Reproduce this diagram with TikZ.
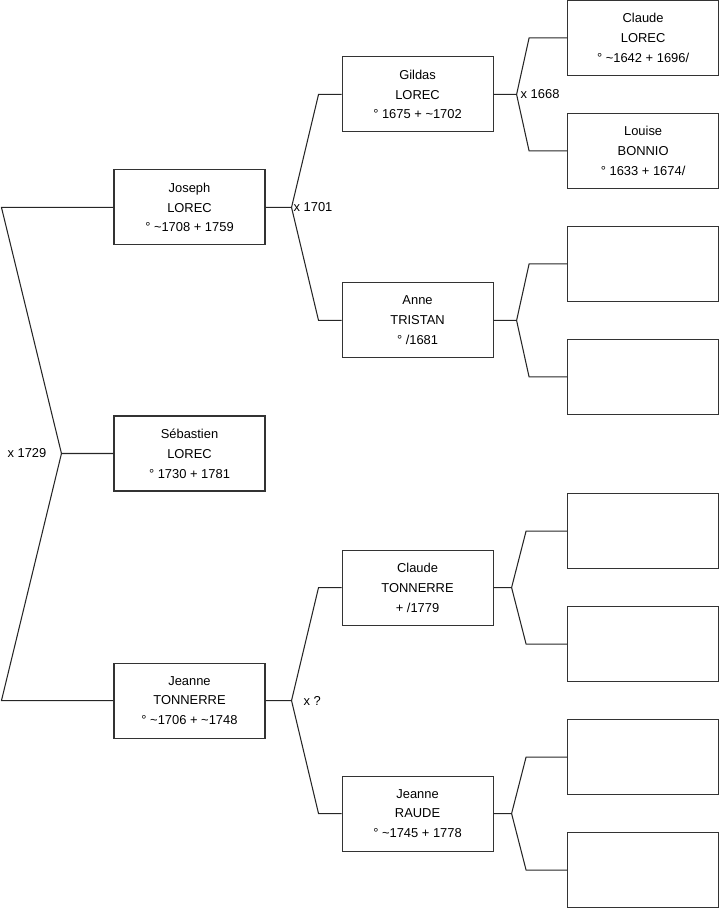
\documentclass[tikz,border=0pt]{standalone}
\usepackage{fontspec}
\setmainfont{Liberation Sans}
\usetikzlibrary{positioning}

\begin{document}
\begin{tikzpicture}[
    node distance=1.47cm,
    box/.style={rectangle, draw=black!80, line width=0.6pt, minimum width=3.02cm, minimum height=1.5cm, align=center, inner sep=0pt, font=\fontsize{7.35}{11.3}\selectfont},
    link/.style={draw=black!85, line width=0.6pt},
    wed/.style={inner sep=1pt, font=\fontsize{7.35}{8.5}\selectfont}
]
\useasboundingbox (0,0) rectangle (14.38,-18.16);

% Generation 1
\node[box] (seb) at (3.79,-9.07) {Sébastien\\LOREC\\° 1730 + 1781};
\node[box, above=3.4cm of seb] (joseph) {Joseph\\LOREC\\° \textasciitilde1708 + 1759};
\node[box, below=3.42cm of seb] (jeanneT) {Jeanne\\TONNERRE\\° \textasciitilde1706 + \textasciitilde1748};

% Generation 2
\node[box, right=1.52cm of joseph, yshift=2.26cm] (gildas) {Gildas\\LOREC\\° 1675 + \textasciitilde1702};
\node[box, right=1.52cm of joseph, yshift=-2.26cm] (anne) {Anne\\TRISTAN\\° /1681};
\node[box, right=1.52cm of jeanneT, yshift=2.26cm] (claudeT) {Claude\\TONNERRE\\+ /1779};
\node[box, right=1.52cm of jeanneT, yshift=-2.26cm] (jeanneR) {Jeanne\\RAUDE\\° \textasciitilde1745 + 1778};

% Generation 3
\node[box, right=of gildas, yshift=1.13cm] (claudeL) {Claude\\LOREC\\° \textasciitilde1642 + 1696/};
\node[box, right=of gildas, yshift=-1.13cm] (louise) {Louise\\BONNIO\\° 1633 + 1674/};
\node[box, right=of anne, yshift=1.13cm] (anneF) {};
\node[box, right=of anne, yshift=-1.13cm] (anneM) {};
\node[box, right=of claudeT, yshift=1.13cm] (claudeF) {};
\node[box, right=of claudeT, yshift=-1.13cm] (claudeM) {};
\node[box, right=of jeanneR, yshift=1.13cm] (jeanneF) {};
\node[box, right=of jeanneR, yshift=-1.13cm] (jeanneM) {};

% Forks - Generation 1
\draw[link] (seb.west) -- ++(-1.04,0) coordinate (fs) -- ([xshift=-2.24cm]joseph.west) -- (joseph.west);
\draw[link] (fs) -- ([xshift=-2.24cm]jeanneT.west) -- (jeanneT.west);
\node[wed, left=0.26cm of fs] (wfs) {x 1729};

% Forks - Generation 2
\draw[link] (joseph.east) -- ++(0.52,0) coordinate (fj) -- ([xshift=-0.46cm]gildas.west) -- (gildas.west);
\draw[link] (fj) -- ([xshift=-0.46cm]anne.west) -- (anne.west);
\node[wed, right=0cm of fj] (wfj) {x 1701};

\draw[link] (jeanneT.east) -- ++(0.52,0) coordinate (fjt) -- ([xshift=-0.46cm]claudeT.west) -- (claudeT.west);
\draw[link] (fjt) -- ([xshift=-0.46cm]jeanneR.west) -- (jeanneR.west);
\node[wed, right=0.2cm of fjt] (wfjt) {x ?};

% Forks - Generation 3
\draw[link] (gildas.east) -- ++(0.46,0) coordinate (fg) -- ([xshift=-0.76cm]claudeL.west) -- (claudeL.west);
\draw[link] (fg) -- ([xshift=-0.76cm]louise.west) -- (louise.west);
\node[wed, right=0.04cm of fg] (wfg) {x 1668};

\draw[link] (anne.east) -- ++(0.46,0) coordinate (fa) -- ([xshift=-0.76cm]anneF.west) -- (anneF.west);
\draw[link] (fa) -- ([xshift=-0.76cm]anneM.west) -- (anneM.west);

\draw[link] (claudeT.east) -- ++(0.36,0) coordinate (fc) -- ([xshift=-0.82cm]claudeF.west) -- (claudeF.west);
\draw[link] (fc) -- ([xshift=-0.82cm]claudeM.west) -- (claudeM.west);

\draw[link] (jeanneR.east) -- ++(0.36,0) coordinate (fr) -- ([xshift=-0.82cm]jeanneF.west) -- (jeanneF.west);
\draw[link] (fr) -- ([xshift=-0.82cm]jeanneM.west) -- (jeanneM.west);

\end{tikzpicture}
\end{document}
